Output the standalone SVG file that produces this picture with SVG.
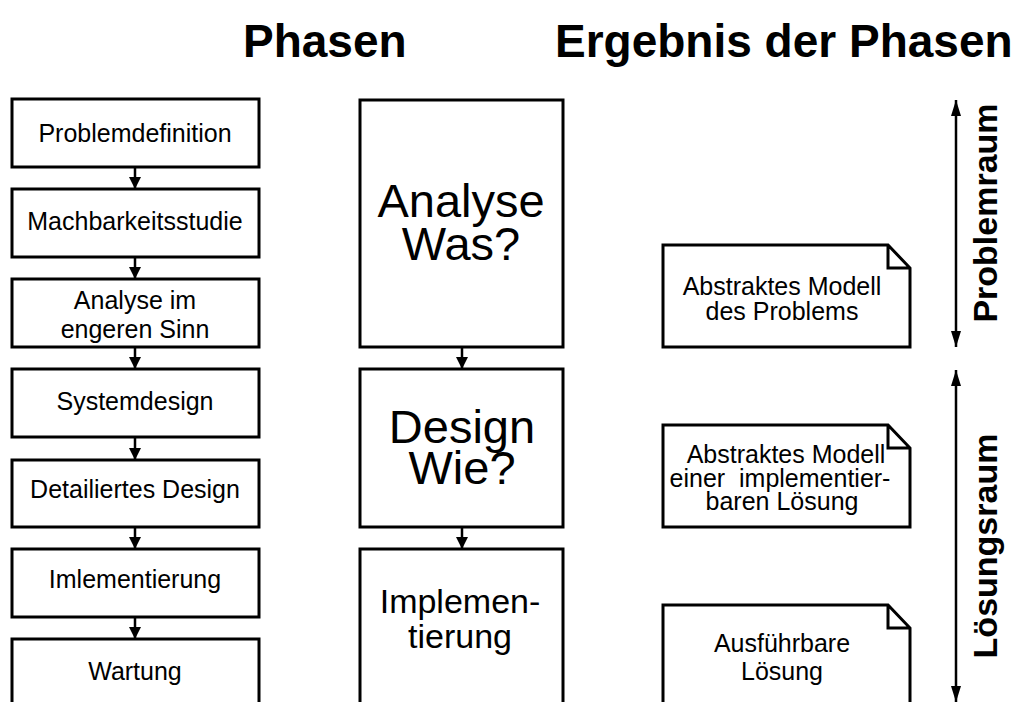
<svg xmlns="http://www.w3.org/2000/svg" width="1026" height="702" viewBox="0 0 1026 702">
<style>
  .box { fill: #fff; stroke: #000; stroke-width: 3; }
  .note { fill: #fff; stroke: #000; stroke-width: 3; stroke-linejoin: miter; }
  .conn { stroke: #000; stroke-width: 2.5; fill: none; }
  .t { font-family: "Liberation Sans", Arial, sans-serif; fill: #000; text-anchor: middle; }
  .s { font-size: 25px; }
  .big { font-size: 47px; }
  .mid { font-size: 34px; }
  .title { font-size: 46px; font-weight: bold; text-anchor: start; }
  .side { font-size: 34px; font-weight: bold; }
</style>
<defs>
  <marker id="ah" viewBox="0 0 12 12" refX="12" refY="6" markerWidth="12" markerHeight="12" markerUnits="userSpaceOnUse" orient="auto">
    <path d="M0,0 L12,6 L0,12 Z" fill="#000"/>
  </marker>
  <marker id="ah2" viewBox="0 0 16 10" refX="16" refY="5" markerWidth="16" markerHeight="10" markerUnits="userSpaceOnUse" orient="auto-start-reverse">
    <path d="M0,0 L16,5 L0,10 Z" fill="#000"/>
  </marker>
</defs>
<rect width="1026" height="702" fill="#fff"/>

<g id="titles">
  <text class="t title" x="243" y="57">Phasen</text>
  <text class="t title" x="555" y="57">Ergebnis der Phasen</text>
</g>

<g id="connectors">
  <line class="conn" x1="135" y1="167" x2="135" y2="189" marker-end="url(#ah)"/>
  <line class="conn" x1="135" y1="257" x2="135" y2="279" marker-end="url(#ah)"/>
  <line class="conn" x1="135" y1="347" x2="135" y2="369" marker-end="url(#ah)"/>
  <line class="conn" x1="135" y1="437" x2="135" y2="460" marker-end="url(#ah)"/>
  <line class="conn" x1="135" y1="527" x2="135" y2="549" marker-end="url(#ah)"/>
  <line class="conn" x1="135" y1="617" x2="135" y2="639" marker-end="url(#ah)"/>
  <line class="conn" x1="462" y1="347" x2="462" y2="369" marker-end="url(#ah)"/>
  <line class="conn" x1="462" y1="527" x2="462" y2="549" marker-end="url(#ah)"/>
  <line class="conn" x1="956" y1="100" x2="956" y2="347" marker-start="url(#ah2)" marker-end="url(#ah2)"/>
  <line class="conn" x1="956" y1="370" x2="956" y2="702" marker-start="url(#ah2)" marker-end="url(#ah2)"/>
</g>

<g id="n-problemdefinition">
  <rect class="box" x="12" y="99" width="247" height="68"/>
  <text class="t s" x="135" y="142">Problemdefinition</text>
</g>
<g id="n-machbarkeitsstudie">
  <rect class="box" x="12" y="189" width="247" height="68"/>
  <text class="t s" x="135" y="230">Machbarkeitsstudie</text>
</g>
<g id="n-analyse-ies">
  <rect class="box" x="12" y="279" width="247" height="68"/>
  <text class="t s" x="135" y="309">Analyse im<tspan x="135" dy="29">engeren Sinn</tspan></text>
</g>
<g id="n-systemdesign">
  <rect class="box" x="12" y="369" width="247" height="68"/>
  <text class="t s" x="135" y="410">Systemdesign</text>
</g>
<g id="n-detailiertes-design">
  <rect class="box" x="12" y="460" width="247" height="67"/>
  <text class="t s" x="135" y="498">Detailiertes Design</text>
</g>
<g id="n-imlementierung">
  <rect class="box" x="12" y="549" width="247" height="68"/>
  <text class="t s" x="135" y="588">Imlementierung</text>
</g>
<g id="n-wartung">
  <rect class="box" x="12" y="639" width="247" height="80"/>
  <text class="t s" x="135" y="680">Wartung</text>
</g>

<g id="n-analyse">
  <rect class="box" x="360" y="100" width="203" height="247"/>
  <text class="t big" x="461" y="217">Analyse<tspan x="461" dy="43">Was?</tspan></text>
</g>
<g id="n-design">
  <rect class="box" x="360" y="369" width="203" height="158"/>
  <text class="t big" x="462" y="443">Design<tspan x="462" dy="41">Wie?</tspan></text>
</g>
<g id="n-implementierung">
  <rect class="box" x="360" y="549" width="203" height="170"/>
  <text class="t mid" x="460" y="613">Implemen-<tspan x="460" dy="35">tierung</tspan></text>
</g>

<g id="n-modell-problem">
  <path class="note" d="M663,245 L888,245 L910,268 L910,347 L663,347 Z M888,245 L888,268 L910,268"/>
  <text class="t s" x="782" y="295">Abstraktes Modell<tspan x="782" dy="25">des Problems</tspan></text>
</g>
<g id="n-modell-loesung">
  <path class="note" d="M663,425 L888,425 L910,448 L910,527 L663,527 Z M888,425 L888,448 L910,448"/>
  <text class="t s" x="786" y="463" xml:space="preserve">Abstraktes Modell<tspan x="780" dy="24">einer  implementier-</tspan><tspan x="782" dy="23">baren Lösung</tspan></text>
</g>
<g id="n-ausfuehrbar">
  <path class="note" d="M663,605 L888,605 L910,628 L910,720 L663,720 Z M888,605 L888,628 L910,628"/>
  <text class="t s" x="782" y="652">Ausführbare<tspan x="782" dy="28">Lösung</tspan></text>
</g>

<g id="n-labels">
  <text class="t side" transform="translate(997,213) rotate(-90)">Problemraum</text>
  <text class="t side" transform="translate(997,546) rotate(-90)">Lösungsraum</text>
</g>
</svg>
